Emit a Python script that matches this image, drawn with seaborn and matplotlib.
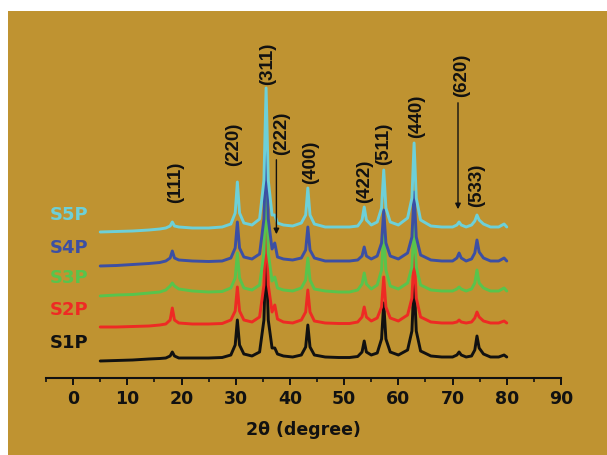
import numpy as np
import pandas as pd
import matplotlib
matplotlib.use("Agg")
import matplotlib.pyplot as plt
from matplotlib.patches import Rectangle
import seaborn as sns

# ---------------- data ----------------
two_theta = [5, 8, 11, 14, 16, 17.1, 17.9, 18.3, 18.7, 19.5, 22, 25, 27.5, 29.1, 29.9, 30.3, 30.7,
             31.5, 33, 34.4, 35.2, 35.6, 36.0, 36.7, 37.2, 37.7, 38.8, 40.5, 42.1, 42.9, 43.3, 43.7,
             44.5, 46.5, 49, 51, 52.5, 53.3, 53.7, 54.1, 55.0, 56.1, 56.9, 57.3, 57.7, 58.5, 60,
             61.7, 62.5, 62.9, 63.3, 64.1, 66, 68, 70, 70.8, 71.2, 71.6, 72.5, 73.5, 74.1, 74.5,
             74.9, 75.7, 77, 78.5, 79.5, 80]

s1p = [-3, -2.5, -2, -1, -0.5, 0, 2, 6, 2, 0, 0, 0, 0.5, 3, 13, 38, 13,
       4, 2, 6, 38, 110, 38, 10, 10, 4, 2, 1, 3, 11, 33, 11,
       3, 1, 0.5, 0.5, 1.5, 6, 17, 6, 3, 5, 19, 55, 19, 6, 3,
       8, 27, 78, 27, 7, 2, 1, 1, 3, 6, 3, 1, 2, 8, 22,
       10, 4, 1, 1, 3, 1]
s2p = [-2, -2, -1.5, -1, 0, 1, 5, 17, 5, 2, 1, 1, 1.5, 5, 14, 38, 14,
       5, 3, 8, 40, 110, 40, 13, 20, 6, 3, 2, 5, 13, 35, 13,
       4, 2, 1.5, 1.5, 3, 8, 18, 8, 4, 7, 18, 48, 18, 7, 4,
       10, 27, 72, 27, 8, 3, 2, 2, 3, 5, 3, 2, 3, 7, 13,
       8, 4, 2, 2, 4, 2]
s3p = [-3, -2, -1.5, 0, 1, 3, 7, 10, 7, 4, 2, 1, 1.5, 5, 15, 40, 15,
       5, 3, 8, 40, 110, 40, 12, 16, 5, 3, 2, 5, 13, 35, 13,
       4, 2, 1, 1, 3, 9, 20, 9, 4, 8, 23, 62, 23, 7, 4,
       10, 26, 70, 26, 8, 3, 2, 2, 4, 6, 4, 2, 4, 10, 23,
       10, 5, 2, 2, 5, 2]
s4p = [-3, -2.5, -1.5, -0.5, 0.5, 2, 5, 12, 5, 3, 2, 1.5, 2, 5, 15, 41, 15,
       6, 4, 9, 44, 123, 44, 14, 20, 6, 4, 3, 5, 13, 36, 13,
       5, 2, 2, 2, 3, 7, 16, 7, 4, 7, 20, 53, 20, 7, 4,
       10, 26, 71, 26, 8, 3, 2, 2, 5, 10, 5, 2, 4, 10, 23,
       11, 5, 2, 2, 5, 2]
s5p = [-2, -1.5, -1, 0, 1, 2, 4, 8, 4, 3, 2, 2, 3, 6, 17, 48, 17,
       7, 5, 11, 50, 142, 50, 15, 15, 7, 5, 4, 7, 15, 42, 15,
       6, 3, 3, 3, 4, 10, 23, 10, 5, 8, 22, 60, 22, 8, 5,
       12, 32, 87, 32, 10, 4, 3, 3, 5, 8, 5, 3, 5, 9, 15,
       10, 6, 3, 3, 6, 3]

samples = ["S1P", "S2P", "S3P", "S4P", "S5P"]
series = [s1p, s2p, s3p, s4p, s5p]
stack_offsets = [20, 53, 85, 115, 148]
colors = ["#111111", "#ee2a24", "#58c44c", "#3c4fa4", "#6dd0d8"]

peak_labels = ["(111)", "(220)", "(311)", "(222)", "(400)", "(422)", "(511)", "(440)", "(620)", "(533)"]
label_x = [19.0, 29.6, 35.8, 38.5, 43.9, 53.7, 57.3, 63.4, 71.6, 74.5]
label_y = [175, 212, 293, 223, 194, 175, 213, 240, 281, 171]

x_ticks = [0, 10, 20, 30, 40, 50, 60, 70, 80, 90]

# ---------------- build long table ----------------
rows = []
for name, vals, off in zip(samples, series, stack_offsets):
    for t, v in zip(two_theta, vals):
        rows.append({"two_theta": t, "intensity": v + off, "sample": name})
df = pd.DataFrame(rows)

# ---------------- figure ----------------
sns.set_theme(style="ticks")
plt.rcParams["font.family"] = ["DejaVu Sans"]

W, H = 607, 455
fig = plt.figure(figsize=(W / 100, H / 100), dpi=100)
fig.patch.set_facecolor("white")
bg = "#bf9331"
fig.add_artist(Rectangle((8 / W, 0), 1 - 8 / W, (H - 11) / H, transform=fig.transFigure,
                         facecolor=bg, edgecolor="none", zorder=0))

ax = fig.add_axes([46 / W, 77 / H, (561 - 46) / W, 358 / H])
ax.set_facecolor("none")

sns.lineplot(data=df, x="two_theta", y="intensity", hue="sample", hue_order=samples,
             palette=colors, estimator=None, sort=False, linewidth=2.1, legend=False, ax=ax)

ax.set_xlim(-5, 90)
ax.set_ylim(0, 358)
ax.set_xticks(x_ticks)
ax.set_xticks([v + 5 for v in [-10] + x_ticks[:-1]], minor=True)
ax.set_yticks([])
for s in ["top", "right", "left"]:
    ax.spines[s].set_visible(False)
ax.spines["bottom"].set_linewidth(1.5)
ax.spines["bottom"].set_color("#111111")
ax.tick_params(axis="x", which="major", length=5, width=1.4, color="#111111", pad=4,
               labelsize=12.5, labelcolor="#111111", direction="out")
ax.tick_params(axis="x", which="minor", length=2.8, width=1.2, color="#111111", direction="out")
for lab in ax.get_xticklabels():
    lab.set_fontweight("bold")
ax.set_xlabel("2θ (degree)", fontsize=12.5, fontweight="bold", color="#111111", labelpad=9)
ax.set_ylabel("")

# sample labels
for name, off, c in zip(samples, stack_offsets, colors):
    ax.text(-0.7, off + 15, name, color=c, fontsize=13, fontweight="bold",
            ha="center", va="center")

# peak labels
for lab, lx, ly in zip(peak_labels, label_x, label_y):
    ax.text(lx, ly, lab, rotation=90, ha="center", va="bottom", fontsize=13.5,
            fontweight="bold", color="#111111", family=["Liberation Sans", "DejaVu Sans"])

# arrows for (222) and (620)
ax.annotate("", xy=(37.5, 141), xytext=(37.5, 221),
            arrowprops=dict(arrowstyle="-|>", color="#111111", lw=1.0, mutation_scale=8))
ax.annotate("", xy=(71.0, 166), xytext=(71.0, 278),
            arrowprops=dict(arrowstyle="-|>", color="#111111", lw=1.0, mutation_scale=8))

fig.savefig("out.png", dpi=100, facecolor=fig.get_facecolor())
